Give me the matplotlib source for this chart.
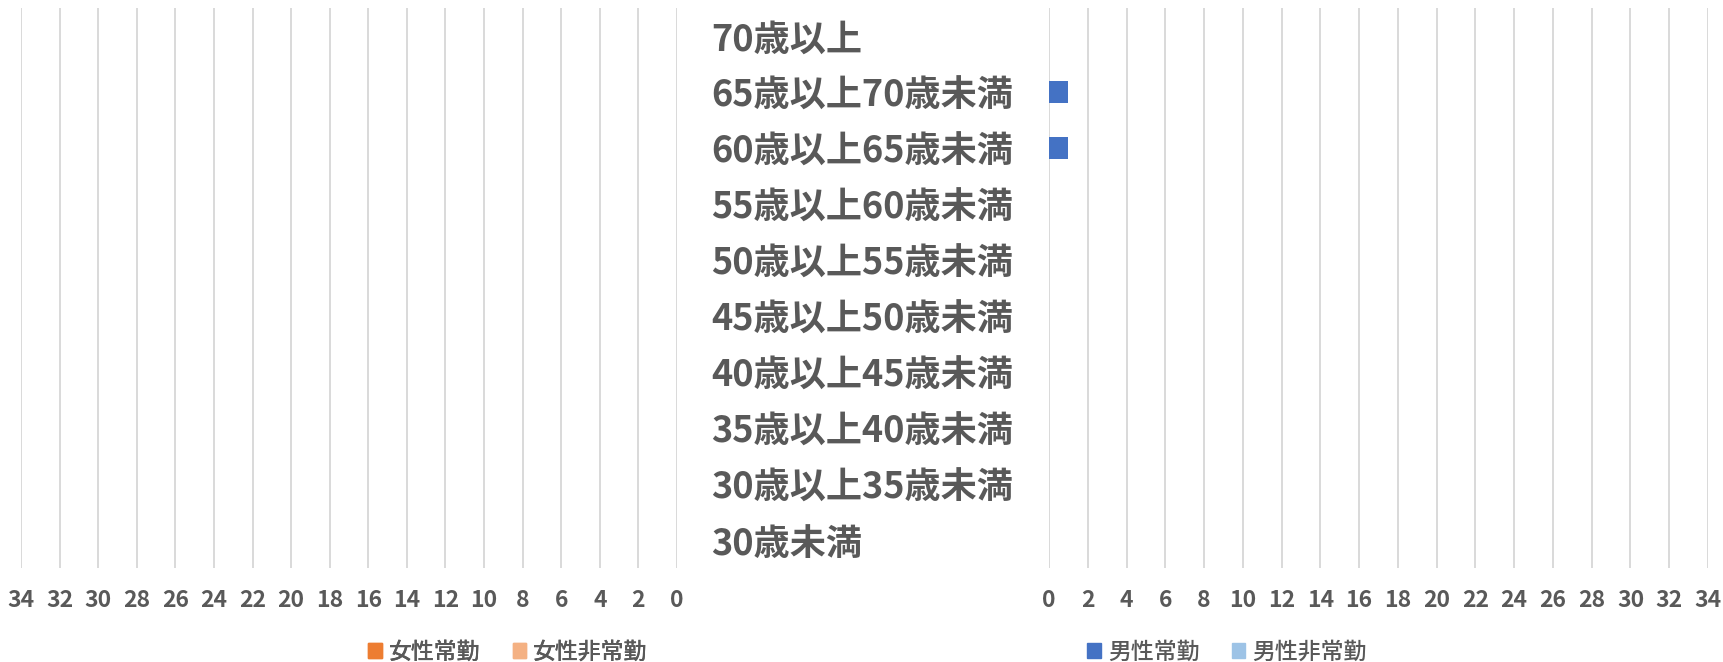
import matplotlib
matplotlib.use("Agg")
import matplotlib.pyplot as plt
from matplotlib.patches import Patch
from matplotlib.transforms import blended_transform_factory, ScaledTranslation

plt.rcParams['font.family'] = ['Noto Sans CJK JP', 'DejaVu Sans']

categories = ["30歳未満", "30歳以上35歳未満", "35歳以上40歳未満", "40歳以上45歳未満",
              "45歳以上50歳未満", "50歳以上55歳未満", "55歳以上60歳未満",
              "60歳以上65歳未満", "65歳以上70歳未満", "70歳以上"]
female_regular = [0, 0, 0, 0, 0, 0, 0, 0, 0, 0]
female_nonregular = [0, 0, 0, 0, 0, 0, 0, 0, 0, 0]
male_regular = [0, 0, 0, 0, 0, 0, 0, 1, 1, 0]
male_nonregular = [0, 0, 0, 0, 0, 0, 0, 0, 0, 0]
xticks = list(range(0, 35, 2))

TXT = '#595959'
GRID = '#d9d9d9'
C_FR, C_FN = '#ED7D31', '#F4B183'
C_MR, C_MN = '#4472C4', '#9DC3E6'

W, H = 1723, 662
fig = plt.figure(figsize=(W / 100, H / 100), dpi=100)

top = 1 - 8 / H
bot = 1 - 568 / H
axL = fig.add_axes([21 / W, bot, (677 - 21) / W, top - bot])
axR = fig.add_axes([1049 / W, bot, (1708 - 1049) / W, top - bot])

ypos = list(range(len(categories)))
bh = 0.41

axL.barh(ypos, female_regular, height=bh, color=C_FR, zorder=3)
axL.barh(ypos, female_nonregular, left=female_regular, height=bh, color=C_FN, zorder=3)
axR.barh(ypos, male_regular, height=bh, color=C_MR, zorder=3)
axR.barh(ypos, male_nonregular, left=male_regular, height=bh, color=C_MN, zorder=3)

for ax in (axL, axR):
    ax.set_xlim(0, 34)
    ax.set_ylim(-0.5, len(categories) - 0.5)
    ax.set_xticks(xticks)
    ax.set_yticks([])
    ax.grid(axis='x', color=GRID, linewidth=1.4, zorder=0)
    for s in ax.spines.values():
        s.set_visible(False)
    ax.tick_params(axis='x', length=0, pad=15, labelsize=16.5, labelcolor=TXT)
    for lab in ax.get_xticklabels():
        lab.set_fontweight('bold')
axL.invert_xaxis()

tr = blended_transform_factory(fig.transFigure, axL.transData) + \
    ScaledTranslation(0, -4 / 100, fig.dpi_scale_trans)
for i, c in enumerate(categories):
    fig.text(711 / W, i, c, transform=tr, ha='left', va='center',
             fontsize=26, fontweight='bold', color=TXT)

legL = fig.legend(handles=[Patch(color=C_FR, label='女性常勤'), Patch(color=C_FN, label='女性非常勤')],
                  loc='center', bbox_to_anchor=(508 / W, 1 - 652 / H), ncol=2, frameon=False,
                  handlelength=0.6, handleheight=0.6, handletextpad=0.3,
                  columnspacing=1.4, labelcolor=TXT, prop={'weight': 'medium', 'size': 16.5})
legR = fig.legend(handles=[Patch(color=C_MR, label='男性常勤'), Patch(color=C_MN, label='男性非常勤')],
                  loc='center', bbox_to_anchor=(1227 / W, 1 - 652 / H), ncol=2, frameon=False,
                  handlelength=0.6, handleheight=0.6, handletextpad=0.3,
                  columnspacing=1.4, labelcolor=TXT, prop={'weight': 'medium', 'size': 16.5})
fig.add_artist(legL)

fig.savefig('out.png', dpi=100, facecolor='white')
